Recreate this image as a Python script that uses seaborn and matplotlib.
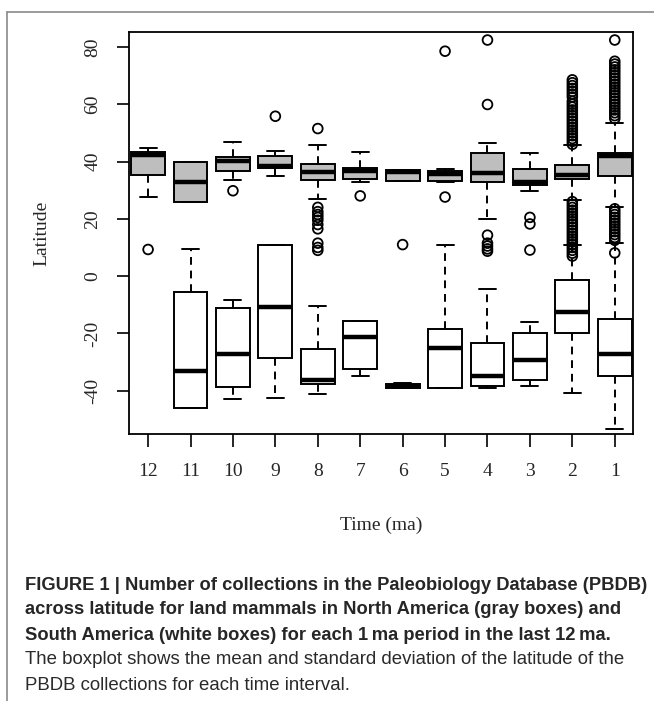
import matplotlib
matplotlib.use("Agg")
import matplotlib.pyplot as plt
from matplotlib.lines import Line2D
import seaborn as sns
import pandas as pd

times = ["12", "11", "10", "9", "8", "7", "6", "5", "4", "3", "2", "1"]

# North America (gray boxes): lower whisker, Q1, median, Q3, upper whisker
na_low = [27.5, 26.0, 33.5, 35.0, 26.9, 32.7, 33.3, 32.7, 19.8, 29.7, 26.5, 24.2]
na_q1 = [35.3, 26.0, 36.8, 37.6, 33.4, 33.9, 33.3, 33.3, 32.7, 31.8, 33.9, 35.0]
na_med = [42.3, 33.0, 40.3, 38.6, 36.4, 36.6, 36.3, 35.5, 36.1, 32.7, 35.2, 41.9]
na_q3 = [43.2, 39.9, 41.7, 41.8, 39.0, 37.8, 37.0, 36.8, 42.8, 37.3, 38.7, 42.9]
na_high = [44.8, 39.9, 46.9, 43.6, 45.7, 43.3, 37.0, 37.3, 46.6, 42.8, 45.7, 53.5]

# South America (white boxes), no data for 12 ma
sa_times = times[1:]
sa_low = [-46.1, -42.8, -42.6, -41.3, -34.7, -39.0, -38.9, -39.0, -38.2, -40.9, -53.4]
sa_q1 = [-46.1, -38.6, -28.5, -37.5, -32.5, -39.0, -38.9, -38.3, -36.4, -19.8, -34.8]
sa_med = [-33.0, -27.2, -10.9, -36.4, -21.4, -38.3, -25.2, -34.8, -29.1, -12.5, -27.3]
sa_q3 = [-5.5, -11.1, 11.0, -25.5, -15.6, -37.8, -18.5, -23.4, -19.7, -1.5, -14.8]
sa_high = [9.3, -8.4, 11.0, -10.5, -15.6, -37.3, 11.0, -4.5, -16.1, 10.8, 11.4]

# outlying collections per interval
outliers = {
    "12": [9.3],
    "10": [29.8],
    "9": [55.8],
    "8": [51.5, 24.0, 22.5, 21.5, 20.5, 19.5, 18.0, 16.5, 11.5, 10.0, 9.0],
    "7": [28.0],
    "6": [11.0],
    "5": [78.5, 27.6],
    "4": [82.4, 59.9, 14.3, 11.5, 10.5, 9.5, 8.7],
    "3": [20.5, 18.2, 9.1],
    "2": [68.5, 67.5, 66.5, 65.5, 64.5, 63.5, 62.5, 61, 60, 59, 58, 57, 56, 55,
          54, 53, 52, 51, 50, 49, 48, 47, 46,
          26, 25, 24, 23, 22, 21, 20, 19, 18, 17, 16, 15, 14, 13, 12, 11, 10,
          9, 8, 7],
    "1": [82.4, 75, 74, 73, 72, 71, 70, 69, 68, 67, 66, 65, 64, 63, 62, 61, 60,
          59, 58, 57, 56, 55,
          23.5, 22.5, 21.5, 20.5, 19.5, 18.5, 17.5, 16.5, 15.5, 14.5, 13.5,
          12.5, 8.1],
}


def five_num(labels, *cols):
    rows = []
    for i, t in enumerate(labels):
        for c in cols:
            rows.append({"time": t, "lat": c[i]})
    return pd.DataFrame(rows)


na_df = five_num(times, na_low, na_q1, na_med, na_q3, na_high)
sa_df = five_num(sa_times, sa_low, sa_q1, sa_med, sa_q3, sa_high)
out_df = pd.DataFrame([{"time": t, "lat": v} for t, vals in outliers.items() for v in vals])

sns.set_style("white")
plt.rcParams["font.family"] = ["Liberation Serif", "DejaVu Serif"]
plt.rcParams["axes.unicode_minus"] = False

fig = plt.figure(figsize=(6.54, 7.01), dpi=100)
ax = fig.add_axes([129 / 654, 1 - 434 / 701, 504 / 654, 402 / 701])

box_kw = dict(
    order=times, whis=(0, 100), showfliers=False, width=0.8, saturation=1,
    linecolor="black", linewidth=1.4,
    whiskerprops={"linestyle": (0, (4, 3)), "linewidth": 1.4},
    capprops={"linewidth": 1.4},
    medianprops={"linewidth": 3.2, "solid_capstyle": "butt"},
)
sns.boxplot(data=na_df, x="time", y="lat", color="#bebebe", ax=ax, **box_kw)
sns.boxplot(data=sa_df, x="time", y="lat", color="white", ax=ax, **box_kw)
sns.stripplot(data=out_df, x="time", y="lat", order=times, jitter=False,
              color="black", facecolor="none", edgecolor="black",
              linewidth=1.3, size=7, marker="o", ax=ax, zorder=5)

ax.set_xlim(-0.45, 11.43)
ax.set_ylim(-55.1, 85.2)
ax.set_yticks([-40, -20, 0, 20, 40, 60, 80])
ax.set_xlabel("")
ax.set_ylabel("")
for s in ax.spines.values():
    s.set_visible(True)
    s.set_color("black")
    s.set_linewidth(1.3)
ax.tick_params(axis="both", which="major", direction="out", length=9,
               width=1.2, color="black", labelsize=14, left=True, bottom=True)
ax.tick_params(axis="x", pad=12)
ax.tick_params(axis="y", pad=11, labelrotation=90)
for lab in ax.get_yticklabels():
    lab.set_va("center")

fig.text(42 / 654, 1 - 233 / 701, "Latitude", rotation=90, ha="center",
         va="center", fontsize=14)
fig.text(381 / 654, 1 - 525 / 701, "Time (ma)", ha="center", va="center",
         fontsize=14)

# frame around figure and caption
fig.add_artist(Line2D([7 / 654, 1], [1 - 12 / 701, 1 - 12 / 701],
                      color="#8a8a8a", lw=1.2))
fig.add_artist(Line2D([7 / 654, 7 / 654], [0, 1 - 12 / 701],
                      color="#8a8a8a", lw=1.2))

cap_font = ["Liberation Sans", "DejaVu Sans"]
bold_lines = [
    "FIGURE 1 | Number of collections in the Paleobiology Database (PBDB)",
    "across latitude for land mammals in North America (gray boxes) and",
    "South America (white boxes) for each 1\u2009ma period in the last 12\u2009ma.",
]
plain_lines = [
    "The boxplot shows the mean and standard deviation of the latitude of the",
    "PBDB collections for each time interval.",
]
y0 = 585
for i, line in enumerate(bold_lines):
    fig.text(25 / 654, 1 - (y0 + 25 * i) / 701, line, ha="left", va="center",
             fontsize=13.2, fontweight="bold", family=cap_font)
for i, line in enumerate(plain_lines):
    fig.text(25 / 654, 1 - (y0 + 25 * (i + 3)) / 701, line, ha="left",
             va="center", fontsize=13.4, family=cap_font, color="#2a2a2a")

fig.savefig("out.png", dpi=100)
